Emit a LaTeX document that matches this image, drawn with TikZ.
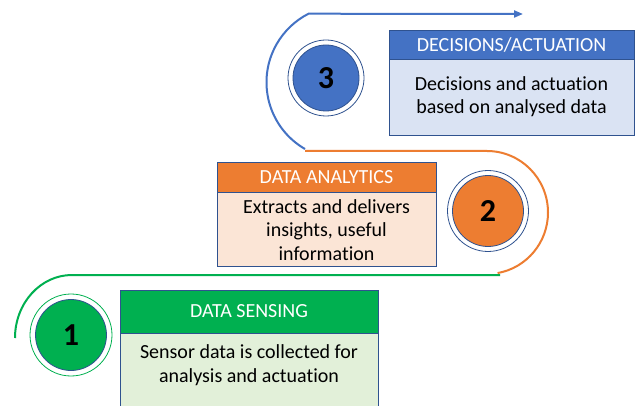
\documentclass[tikz,border=0pt]{standalone}
\usepackage{fontspec}
\setmainfont{Carlito}[RawFeature=-liga]
\usetikzlibrary{arrows.meta}
\definecolor{gH}{HTML}{00B050}
\definecolor{gB}{HTML}{E2F0D9}
\definecolor{oH}{HTML}{ED7D31}
\definecolor{oB}{HTML}{FBE5D6}
\definecolor{bH}{HTML}{4472C4}
\definecolor{bB}{HTML}{DAE3F3}
\definecolor{bord}{HTML}{2F528F}
\tikzset{
  hdr/.style={rectangle, draw=bord, line width=0.8pt, inner sep=0pt, outer sep=0pt, anchor=north west, text=white, font=\fontsize{20}{23}\selectfont},
  bodybox/.style={rectangle, draw=bord, line width=0.8pt, inner sep=0pt, outer sep=0pt, anchor=north west},
  bodytext/.style={align=center, font=\fontsize{20}{23.5}\selectfont, inner sep=0pt},
  numcirc/.style={circle, draw=bord, line width=0.8pt, inner sep=0pt, minimum size=71pt, font=\fontsize{32}{32}\selectfont\bfseries},
  ring/.style={line width=0.8pt},
  flow/.style={line width=2pt}
}
\begin{document}
\begin{tikzpicture}[x=1pt,y=1pt]
\clip (0,0) rectangle (635,405);
\fill[white] (0,0) rectangle (635,405);
% boxes
\node[bodybox, fill=gB, minimum width=258pt, minimum height=90pt] (b1) at (120,72) {};
\node[hdr, fill=gH, minimum width=258pt, minimum height=43pt] (h1) at (120,115) {DATA SENSING};
\node[bodytext] (t1) at (249,40) {Sensor data is collected for\\analysis and actuation};

\node[bodybox, fill=oB, minimum width=219pt, minimum height=74pt] (b2) at (217,213) {};
\node[hdr, fill=oH, minimum width=219pt, minimum height=30pt] (h2) at (217,243) {DATA ANALYTICS};
\node[bodytext] (t2) at (326.5,175) {Extracts and delivers\\insights, useful\\information};

\node[bodybox, fill=bB, minimum width=245pt, minimum height=76pt] (b3) at (389,346) {};
\node[hdr, fill=bH, minimum width=245pt, minimum height=29pt] (h3) at (389,375) {DECISIONS/ACTUATION};
\node[bodytext] (t3) at (511.5,308.5) {Decisions and actuation\\based on analysed data};

% circles
\node[numcirc, fill=gH] (c1) at (71,70) {1};
\draw[ring, gH] (c1.center) circle (41);
\node[numcirc, fill=oH] (c2) at (488,194) {2};
\draw[ring, bord] (c2.center) circle (40.5);
\node[numcirc, fill=bH, minimum size=66pt] (c3) at (326,327) {3};
\draw[ring, bord] (c3.center) circle (38);

% flow paths
\coordinate (gs) at (15,67);
\coordinate (ge) at (500,130);
\coordinate (os) at (305,254);
\coordinate (oc) at (487,254);
\coordinate (bs) at (305,256);
\coordinate (be) at (523,391);
\draw[flow, gH] (gs) arc[start angle=180, end angle=90, x radius=57, y radius=63] -- (ge);
\draw[flow, oH] (os) -- (oc) arc[start angle=90, end angle=-80, x radius=61, y radius=61.5];
\draw[flow, bH, -{Triangle[length=9pt,width=7pt]}] (bs) arc[start angle=240, end angle=117, radius=77] -- (be);
\end{tikzpicture}
\end{document}
